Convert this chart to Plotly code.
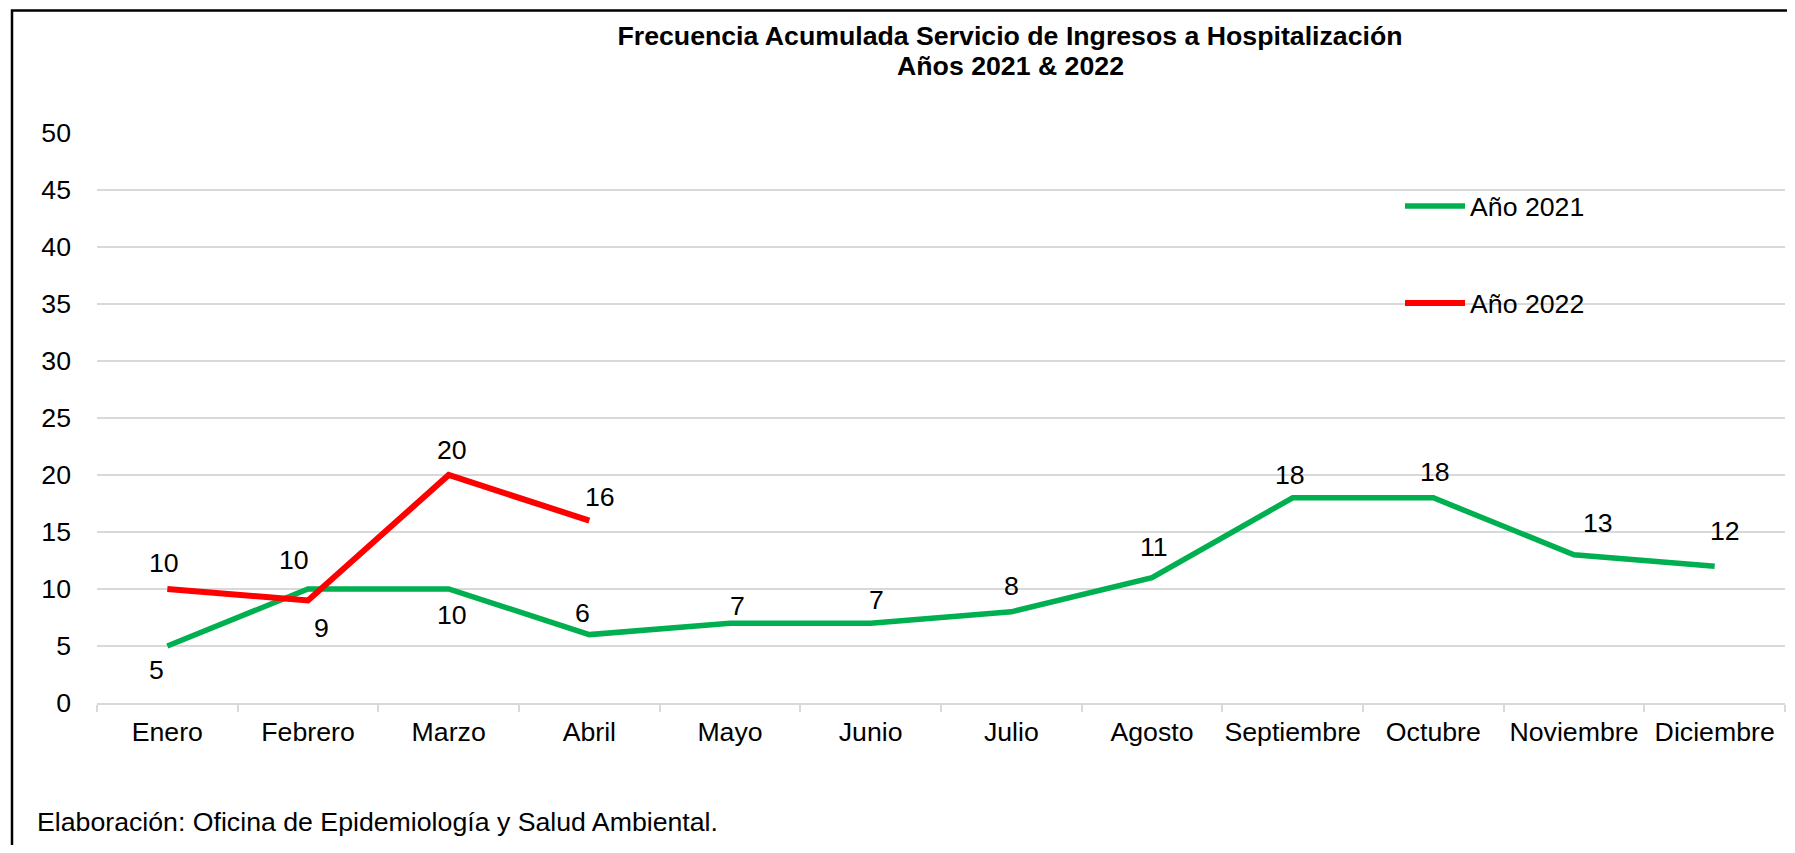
import plotly.graph_objects as go

meses = ["Enero", "Febrero", "Marzo", "Abril", "Mayo", "Junio", "Julio",
         "Agosto", "Septiembre", "Octubre", "Noviembre", "Diciembre"]
anio_2021 = [5, 10, 10, 6, 7, 7, 8, 11, 18, 18, 13, 12]
anio_2022 = [10, 9, 20, 16]
y_ticks = [0, 5, 10, 15, 20, 25, 30, 35, 40, 45, 50]

# page body has an 8px margin: figure is placed at (8, 8)
OFF = 8
FW, FH = 1795 - 2 * OFF, 853 - 2 * OFF
# target positions in screen pixels
PLOT_L, PLOT_R, PLOT_T, PLOT_B = 97, 1785, 133, 703
L = PLOT_L - OFF
T = PLOT_T - OFF
R = FW - (PLOT_R - OFF)
B = FH - (PLOT_B - OFF)
PW, PH = FW - L - R, FH - T - B

def px_x(p):
    return (p - OFF - L) / PW

def px_y(p):
    return (PLOT_B - p) / PH

FONT = "Liberation Sans, Arial, sans-serif"
FS = 26.7
GREEN = "#00B050"
RED = "#FF0000"
GRID = "#D9D9D9"

fig = go.Figure()
fig.add_trace(go.Scatter(x=meses, y=anio_2021, mode="lines", name="Año 2021",
                         line=dict(color=GREEN, width=5.5), legendgroup="a"))
fig.add_trace(go.Scatter(x=meses[:len(anio_2022)], y=anio_2022, mode="lines", name="Año 2022",
                         line=dict(color=RED, width=6), legendgroup="b"))

# label offsets (px): (dx, dy) dy positive = up
off_2021 = [(-11, -24), (-14, 29), (3, -26), (-7, 22), (7, 17), (6, 23), (0, 26),
            (2, 31), (-3, 23), (2, 26), (24, 32), (10, 35)]
off_2022 = [(-3, 26), (13, -28), (3, 25), (11, 24)]

ann = []
for serie, offs in ((anio_2021, off_2021), (anio_2022, off_2022)):
    for m, v, (dx, dy) in zip(meses, serie, offs):
        ann.append(dict(x=m, y=v, xref="x", yref="y", text=str(v), showarrow=False,
                        xshift=dx, yshift=dy, xanchor="center", yanchor="middle",
                        font=dict(family=FONT, size=FS, color="#000000")))

ann.append(dict(x=px_x(1010), y=px_y(66.5), xref="paper", yref="paper",
                text="<b>Años 2021 &amp; 2022</b>",
                showarrow=False, xanchor="center", yanchor="middle",
                font=dict(family=FONT, size=FS, color="#000000")))

ann.append(dict(x=px_x(35), y=px_y(822), xref="paper", yref="paper",
                text="Elaboración: Oficina de Epidemiología y Salud Ambiental.",
                showarrow=False, xanchor="left", yanchor="middle",
                font=dict(family=FONT, size=FS, color="#000000")))

fig.update_layout(
    width=FW, height=FH,
    margin=dict(l=L, r=R, t=T, b=B, autoexpand=False),
    paper_bgcolor="white", plot_bgcolor="white",
    title=dict(text="<b>Frecuencia Acumulada Servicio de Ingresos a Hospitalización</b>",
               x=px_x(1010), xref="paper", xanchor="center",
               y=1 - (35.5 - OFF) / FH, yref="container", yanchor="middle",
               font=dict(family=FONT, size=FS, color="#000000")),
    xaxis=dict(type="category", categoryorder="array", categoryarray=meses,
               showgrid=False, showline=True, linecolor=GRID, linewidth=2,
               ticks="outside", tickson="boundaries", ticklen=7, tickcolor=GRID, tickwidth=2,
               tickangle=0,
               tickfont=dict(family=FONT, size=FS, color="#000000"),
               ticklabelstandoff=4, range=[-0.5, 11.5]),
    yaxis=dict(range=[0, 50], tickvals=y_ticks, showgrid=True, gridcolor=GRID, gridwidth=1.5,
               zeroline=False, showline=False, ticks="",
               tickfont=dict(family=FONT, size=FS, color="#000000"),
               ticklabelstandoff=25),
    showlegend=True,
    legend=dict(x=px_x(1400), y=px_y(182.2), xanchor="left", yanchor="top",
                bgcolor="rgba(0,0,0,0)", tracegroupgap=59.3, itemwidth=60,
                font=dict(family=FONT, size=FS, color="#000000")),
    annotations=ann,
    shapes=[dict(type="rect", xref="paper", yref="paper",
                 x0=px_x(12), x1=px_x(1830), y0=px_y(900), y1=px_y(10.5),
                 line=dict(color="#000000", width=2.5), fillcolor="rgba(0,0,0,0)",
                 layer="above")],
)

fig.write_html("out.html")
